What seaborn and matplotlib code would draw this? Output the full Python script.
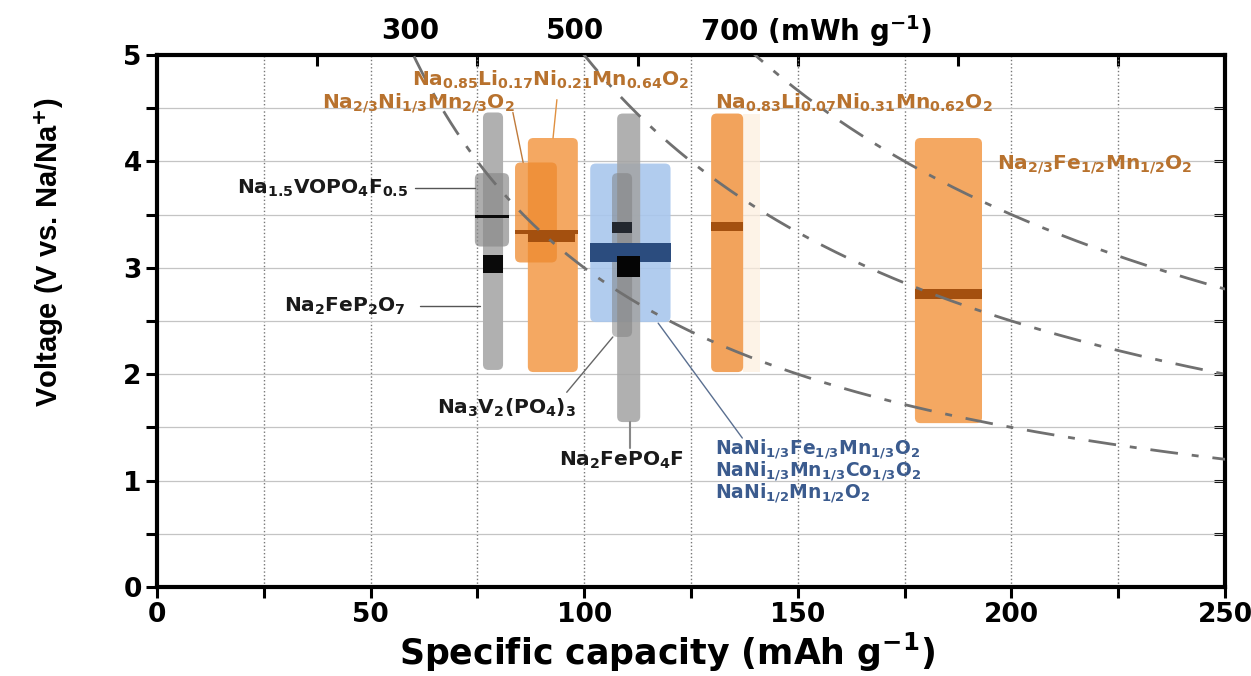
import numpy as np
import pandas as pd
import matplotlib.pyplot as plt
import seaborn as sns
from matplotlib.patches import FancyBboxPatch

# iso-energy lines (mWh g-1)
energy_levels = [300, 500, 700]

# material bands: capacity range (mAh g-1) and voltage window (V)
band_names = ["Na2FeP2O7", "Na1.5VOPO4F0.5", "Na0.85Li0.17Ni0.21Mn0.64O2",
              "Na2/3Ni1/3Mn2/3O2", "NaNi layered", "Na2FePO4F", "Na3V2(PO4)3",
              "Na0.83Li0.07Ni0.31Mn0.62O2", "Na2/3Fe1/2Mn1/2O2"]
band_cap_lo = [76.3, 74.4, 86.8, 83.8, 101.4, 107.7, 106.5, 129.7, 177.4]
band_cap_hi = [81.0, 82.4, 98.5, 93.6, 120.2, 113.1, 111.2, 137.2, 193.1]
band_v_lo = [2.04, 3.20, 2.02, 3.05, 2.49, 1.55, 2.35, 2.02, 1.54]
band_v_hi = [4.46, 3.89, 4.22, 3.99, 3.98, 4.45, 3.89, 4.45, 4.22]
band_colors = ["#b0b0b0", "#8a8a8a", "#f4a862", "#ee8a2e", "#a9c7ed",
               "#a3a3a3", "#7d7d7d", "#f2a35c", "#f4a862"]
band_alpha = [1.0, 0.7, 1.0, 0.75, 0.9, 0.85, 0.5, 1.0, 1.0]

# average voltage marks: capacity range and voltage range
mark_cap_lo = [74.4, 76.3, 83.8, 86.8, 101.4, 106.5, 107.7, 129.7, 177.4]
mark_cap_hi = [82.4, 81.0, 98.5, 97.8, 120.2, 111.2, 113.1, 137.2, 193.1]
mark_v_lo = [3.47, 2.95, 3.32, 3.24, 3.05, 3.33, 2.91, 3.35, 2.71]
mark_v_hi = [3.50, 3.12, 3.36, 3.35, 3.23, 3.43, 3.11, 3.43, 2.80]
mark_colors = ["#0a0a0a", "#0a0a0a", "#a4500f", "#a4500f", "#2b4c7e",
               "#23272e", "#050505", "#a4500f", "#a4500f"]

sns.set_theme(style="ticks")
plt.rcParams['font.family'] = ['DejaVu Sans']
plt.rcParams['mathtext.fontset'] = 'dejavusans'
plt.rcParams['mathtext.default'] = 'bf'
plt.rcParams['text.color'] = 'black'
plt.rcParams['axes.labelcolor'] = 'black'

fig = plt.figure(figsize=(12.51, 6.76), dpi=100)
ax = fig.add_axes([0.1255, 0.1317, 0.8538, 0.7869])
ax.set_xlim(0, 250)
ax.set_ylim(0, 5)

# grid
ax.set_xticks(range(0, 251, 50))
ax.set_xticks(np.arange(25, 250, 50), minor=True)
ax.set_yticks(range(0, 6))
ax.set_yticks(np.arange(0.5, 5, 1), minor=True)
ax.grid(axis='x', which='both', color='#777777', ls=':', lw=1.0)
ax.grid(axis='y', which='both', color='#c4c4c4', ls='-', lw=0.9)
ax.set_axisbelow(True)

# iso-energy curves
cap = np.linspace(50, 250, 300)
curves = pd.DataFrame({
    'cap': np.tile(cap, len(energy_levels)),
    'volt': np.concatenate([e / cap for e in energy_levels]),
    'energy': np.repeat(energy_levels, len(cap)),
})
sns.lineplot(data=curves, x='cap', y='volt', units='energy', estimator=None,
             color='#707070', lw=2.0, ax=ax, zorder=5)
for ln in ax.lines:
    ln.set_dashes([10, 5, 2.5, 5])

# bands
asp = (5 / 532) / (250 / 1068)
for i in range(len(band_names)):
    p = FancyBboxPatch((band_cap_lo[i], band_v_lo[i]),
                       band_cap_hi[i] - band_cap_lo[i], band_v_hi[i] - band_v_lo[i],
                       boxstyle="round,pad=0,rounding_size=1.3", mutation_aspect=asp,
                       fc=band_colors[i], ec='none', alpha=band_alpha[i], zorder=3)
    ax.add_patch(p)
# faint halo next to the 135 band
ax.add_patch(FancyBboxPatch((137.2, 2.02), 4.0, 2.43, boxstyle="square,pad=0",
                            fc='#fdeedd', ec='none', alpha=0.7, zorder=2))

# average voltage marks
mark_cap_lo = np.array(mark_cap_lo)
mark_cap_hi = np.array(mark_cap_hi)
ax.bar((mark_cap_lo + mark_cap_hi) / 2, np.array(mark_v_hi) - np.array(mark_v_lo),
       width=mark_cap_hi - mark_cap_lo, bottom=mark_v_lo, color=mark_colors,
       edgecolor='none', linewidth=0, zorder=4)

# spines / ticks
for s in ax.spines.values():
    s.set_linewidth(3)
    s.set_color('black')
ax.tick_params(which='both', direction='out', length=8, width=2.2,
               labelsize=19, pad=3, colors='black')
for lab in ax.get_xticklabels() + ax.get_yticklabels():
    lab.set_fontweight('bold')
top = ax.secondary_xaxis('top')
top.set_xticks([37.5, 75, 112.5, 150, 187.5, 225])
top.tick_params(direction='in', length=8, width=2.2, labeltop=False, colors='black')
top.spines['top'].set_visible(False)
right = ax.secondary_yaxis('right')
right.set_yticks(np.arange(0.5, 5, 0.5))
right.tick_params(direction='in', length=8, width=2.2, labelright=False, colors='black')
right.spines['right'].set_visible(False)

ax.set_xlabel("Specific capacity (mAh g$^{-1}$)", fontsize=25, fontweight='bold')
ax.set_ylabel("Voltage (V vs. Na/Na$^{+}$)", fontsize=21, fontweight='bold',
              family=['Liberation Sans', 'DejaVu Sans'])
ax.xaxis.set_label_coords(0.478, -0.083)
ax.yaxis.set_label_coords(-0.085, 0.63)

# top energy labels
ax.text(59.2, 5.23, "300", ha='center', va='center', fontsize=20, fontweight='bold', clip_on=False)
ax.text(97.8, 5.23, "500", ha='center', va='center', fontsize=20, fontweight='bold', clip_on=False)
ax.text(127.0, 5.23, "700 (mWh g$^{-1}$)", ha='left', va='center', fontsize=20,
        fontweight='bold', clip_on=False)

# annotations
orange = '#b8722e'
blue = '#3b5b8e'
dark = '#1a1a1a'
fs = 14.5
ax.text(83.8, 4.55, "Na$_{2/3}$Ni$_{1/3}$Mn$_{2/3}$O$_{2}$", color=orange, fontsize=fs,
        fontweight='bold', ha='right', va='center', zorder=6)
ax.text(92.2, 4.77, "Na$_{0.85}$Li$_{0.17}$Ni$_{0.21}$Mn$_{0.64}$O$_{2}$", color=orange,
        fontsize=fs, fontweight='bold', ha='center', va='center', zorder=6)
ax.text(130.6, 4.55, "Na$_{0.83}$Li$_{0.07}$Ni$_{0.31}$Mn$_{0.62}$O$_{2}$", color=orange,
        fontsize=fs, fontweight='bold', ha='left', va='center', zorder=6)
ax.text(196.6, 3.97, "Na$_{2/3}$Fe$_{1/2}$Mn$_{1/2}$O$_{2}$", color=orange, fontsize=fs,
        fontweight='bold', ha='left', va='center', zorder=6)
ax.text(58.8, 3.75, "Na$_{1.5}$VOPO$_{4}$F$_{0.5}$", color=dark, fontsize=fs,
        fontweight='bold', ha='right', va='center', zorder=6)
ax.text(58.1, 2.64, "Na$_{2}$FeP$_{2}$O$_{7}$", color=dark, fontsize=fs,
        fontweight='bold', ha='right', va='center', zorder=6)
ax.text(81.9, 1.68, "Na$_{3}$V$_{2}$(PO$_{4}$)$_{3}$", color=dark, fontsize=fs,
        fontweight='bold', ha='center', va='center', zorder=6)
ax.text(108.7, 1.19, "Na$_{2}$FePO$_{4}$F", color=dark, fontsize=fs,
        fontweight='bold', ha='center', va='center', zorder=6)
ax.text(130.6, 1.30, "NaNi$_{1/3}$Fe$_{1/3}$Mn$_{1/3}$O$_{2}$", color=blue, fontsize=13.5,
        fontweight='bold', ha='left', va='center', zorder=6)
ax.text(130.6, 1.09, "NaNi$_{1/3}$Mn$_{1/3}$Co$_{1/3}$O$_{2}$", color=blue, fontsize=13.5,
        fontweight='bold', ha='left', va='center', zorder=6)
ax.text(130.6, 0.88, "NaNi$_{1/2}$Mn$_{1/2}$O$_{2}$", color=blue, fontsize=13.5,
        fontweight='bold', ha='left', va='center', zorder=6)

# leader lines
ax.plot([60.4, 74.4], [3.75, 3.75], color='#555555', lw=1, zorder=6)
ax.plot([61.6, 75.6], [2.64, 2.64], color='#555555', lw=1, zorder=6)
ax.plot([106.7, 95.9], [2.35, 1.83], color='#666666', lw=1, zorder=6)
ax.plot([110.7, 110.7], [1.55, 1.31], color='#888888', lw=1.5, zorder=6)
ax.plot([117.3, 137.0], [2.48, 1.40], color='#5a6f90', lw=1, zorder=6)
ax.plot([83.3, 85.7], [4.46, 3.99], color='#c07a3a', lw=1, zorder=6)
ax.plot([93.6, 92.7], [4.58, 4.22], color='#e09040', lw=1, zorder=6)

fig.savefig("out.png", dpi=100)
